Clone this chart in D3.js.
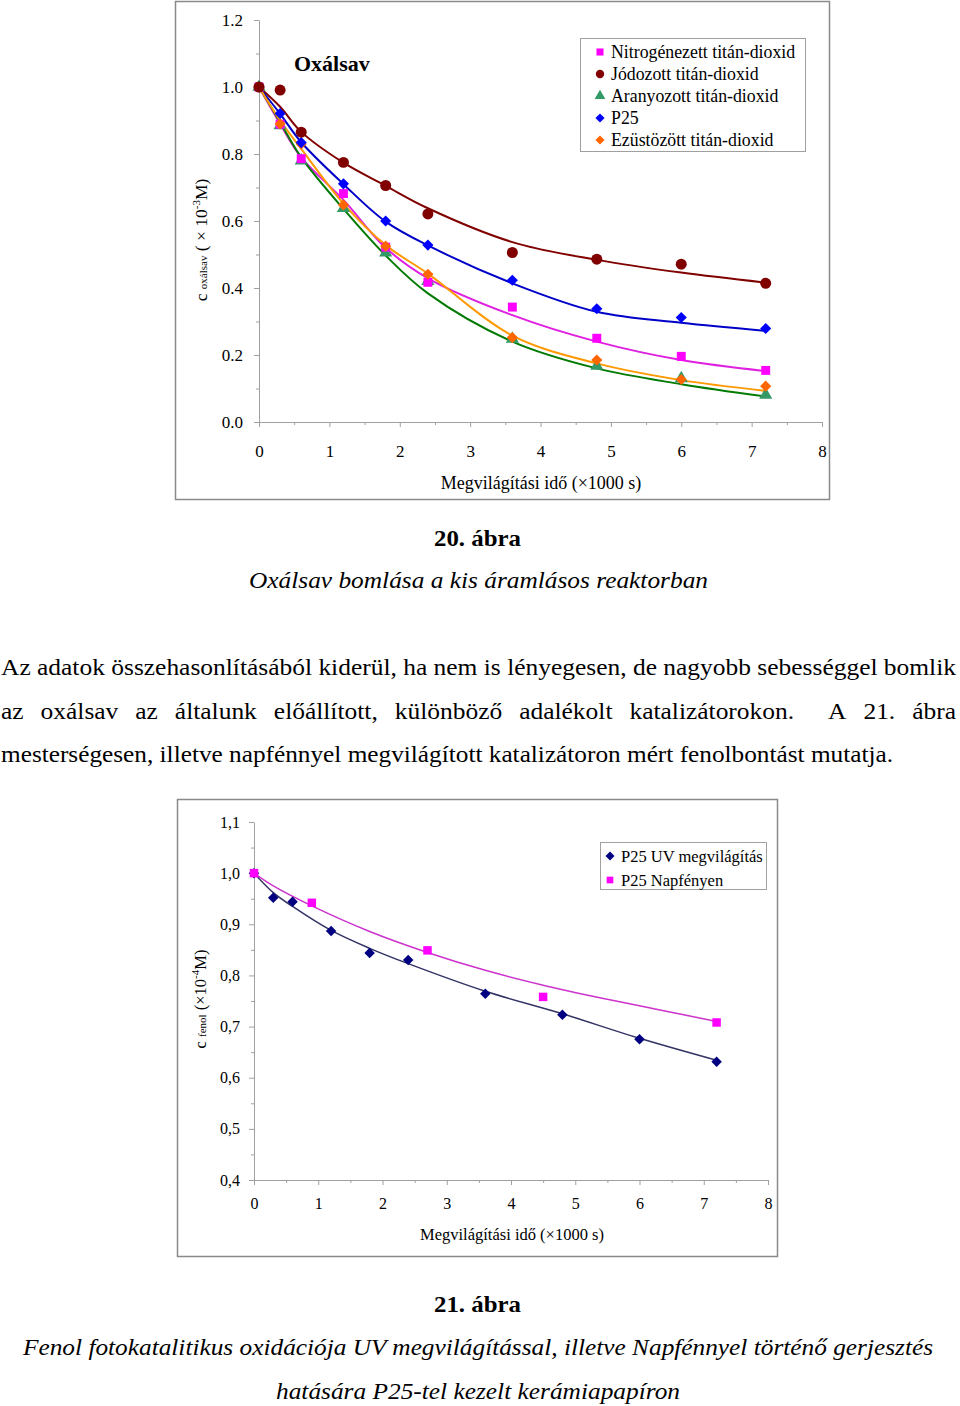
<!DOCTYPE html>
<html><head><meta charset="utf-8">
<script src="https://cdn.jsdelivr.net/npm/d3@7"></script>
<style>
html,body{margin:0;padding:0;background:#fff;}
svg{display:block;}
text{font-family:"Liberation Serif","Times New Roman",serif;fill:#000;}
</style></head>
<body>
<svg id="c" width="960" height="1406"></svg>
<script>
// ---------- DATA: chart 20 (oxalic acid) ----------
const oxTimes = [0, 0.3, 0.6, 1.2, 1.8, 2.4, 3.6, 4.8, 6.0, 7.2];
const oxSeriesNames = ["Nitrogénezett titán-dioxid","Jódozott titán-dioxid","Aranyozott titán-dioxid","P25","Ezüstözött titán-dioxid"];
const nitroVals = [1.0, 0.889, 0.786, 0.682, 0.522, 0.417, 0.343, 0.250, 0.196, 0.154];
const jodVals   = [1.0, 0.991, 0.865, 0.775, 0.706, 0.621, 0.506, 0.486, 0.471, 0.414];
const aranyVals = [1.0, 0.885, 0.780, 0.638, 0.505, 0.420, 0.248, 0.167, 0.130, 0.081];
const p25Vals   = [1.0, 0.921, 0.834, 0.711, 0.600, 0.528, 0.423, 0.338, 0.312, 0.279];
const ezustVals = [1.0, 0.890, 0.830, 0.648, 0.525, 0.441, 0.252, 0.185, 0.127, 0.107];
// fitted (trend) curves at the same times
const nitroFit = [1.0, 0.89, 0.79, 0.663, 0.52, 0.429, 0.319, 0.240, 0.185, 0.152];
const jodFit   = [1.0, 0.941, 0.866, 0.774, 0.705, 0.638, 0.537, 0.484, 0.446, 0.416];
const aranyFit = [1.0, 0.895, 0.79, 0.636, 0.497, 0.384, 0.240, 0.160, 0.113, 0.076];
const p25Fit   = [1.0, 0.92, 0.835, 0.71, 0.598, 0.527, 0.414, 0.329, 0.296, 0.272];
const ezustFit = [1.0, 0.90, 0.815, 0.652, 0.528, 0.443, 0.258, 0.175, 0.125, 0.093];
const oxXTicks = [0,1,2,3,4,5,6,7,8];
const oxYTicks = [0.0,0.2,0.4,0.6,0.8,1.0,1.2];
const oxYTickLabels = ["0.0","0.2","0.4","0.6","0.8","1.0","1.2"];

// ---------- DATA: chart 21 (phenol) ----------
const uvTimes  = [0, 0.3, 0.6, 1.2, 1.8, 2.4, 3.6, 4.8, 6.0, 7.2];
const uvVals   = [1.0, 0.952, 0.944, 0.887, 0.844, 0.830, 0.764, 0.723, 0.675, 0.631];
const uvFitT   = [0, 0.3, 0.6, 1.2, 1.8, 2.4, 3.6, 4.8, 6.0, 7.2];
const uvFit    = [1.0, 0.962, 0.935, 0.888, 0.853, 0.823, 0.769, 0.725, 0.677, 0.634];
const sunTimes = [0, 0.9, 2.7, 4.5, 7.2];
const sunVals  = [1.0, 0.942, 0.849, 0.758, 0.708];
const sunFitT  = [0, 0.3, 0.9, 1.8, 2.7, 3.6, 4.5, 5.4, 6.3, 7.2];
const sunFit   = [1.0, 0.975, 0.936, 0.886, 0.845, 0.81, 0.781, 0.756, 0.733, 0.71];
const feNames = ["P25 UV megvilágítás","P25 Napfényen"];
const feXTicks = [0,1,2,3,4,5,6,7,8];
const feYTicks = [0.4,0.5,0.6,0.7,0.8,0.9,1.0,1.1];
const feYTickLabels = ["0,4","0,5","0,6","0,7","0,8","0,9","1,0","1,1"];

// ---------- TEXT ----------
const cap20 = "20. ábra";
const cap20sub = "Oxálsav bomlása a kis áramlásos reaktorban";
const para = [
  "Az adatok összehasonlításából kiderül, ha nem is lényegesen, de nagyobb sebességgel bomlik",
  "az oxálsav az általunk előállított, különböző adalékolt katalizátorokon.  A 21. ábra",
  "mesterségesen, illetve napfénnyel megvilágított katalizátoron mért fenolbontást mutatja."
];
const cap21 = "21. ábra";
const cap21sub = ["Fenol fotokatalitikus oxidációja UV megvilágítással, illetve Napfénnyel történő gerjesztés",
                  "hatására P25-tel kezelt kerámiapapíron"];

const svg = d3.select("#c");
const AX = "#a0a0a0";

const symDiamond = {draw(ctx,size){const r=Math.sqrt(size/2);ctx.moveTo(0,-r);ctx.lineTo(r,0);ctx.lineTo(0,r);ctx.lineTo(-r,0);ctx.closePath();}};
function symbolPath(type, size){ return d3.symbol().type(type).size(size)(); }

function drawAxes(g, x, y, xTicks, yTicks, yLabels, opts){
  const xMinor = d3.range(0.5, 8, 1);
  g.append("g").attr("transform",`translate(0,${y.range()[0]})`)
    .call(d3.axisBottom(x).tickValues(xMinor).tickSize(3).tickFormat(""))
    .call(a=>a.select(".domain").remove());
  g.append("g").attr("transform",`translate(${x.range()[0]},0)`)
    .call(d3.axisLeft(y).tickValues(opts.yMinor).tickSize(3).tickFormat(""))
    .call(a=>a.select(".domain").remove());
  const xa = g.append("g").attr("transform",`translate(0,${y.range()[0]})`)
    .call(d3.axisBottom(x).tickValues(xTicks).tickSize(5).tickSizeOuter(0).tickPadding(opts.xPad).tickFormat(d3.format("d")));
  const ya = g.append("g").attr("transform",`translate(${x.range()[0]},0)`)
    .call(d3.axisLeft(y).tickValues(yTicks).tickSize(5).tickSizeOuter(0).tickPadding(opts.yPad)
      .tickFormat((d,i)=>yLabels[i]));
  g.selectAll(".tick line").attr("stroke",AX);
  g.selectAll(".domain").attr("stroke",AX);
  [xa,ya].forEach(a=>a.selectAll("text").attr("font-family","Liberation Serif").attr("font-size",opts.fs).attr("fill","#000"));
}

// ================= CHART 20 =================
(function(){
  const g = svg.append("g");
  g.append("rect").attr("x",175.5).attr("y",1.5).attr("width",654).attr("height",498)
    .attr("fill","none").attr("stroke","#8a8a8a").attr("stroke-width",1.5);
  const x = d3.scaleLinear().domain([0,8]).range([259,822]);
  const y = d3.scaleLinear().domain([0,1.2]).range([422,20]);
  drawAxes(g, x, y, oxXTicks, oxYTicks, oxYTickLabels,
    {yMinor:[0.1,0.3,0.5,0.7,0.9,1.1], xPad:18, yPad:11, fs:17});

  const series = [
    {name:oxSeriesNames[0], vals:nitroVals, fit:nitroFit, mark:"#ff00ff", line:"#e020e0", sym:d3.symbolSquare, size:80, ls:50},
    {name:oxSeriesNames[1], vals:jodVals,   fit:jodFit,   mark:"#800000", line:"#800000", sym:d3.symbolCircle, size:95, ls:55},
    {name:oxSeriesNames[2], vals:aranyVals, fit:aranyFit, mark:"#339966", line:"#007a00", sym:d3.symbolTriangle, size:75, ls:50},
    {name:oxSeriesNames[3], vals:p25Vals,   fit:p25Fit,   mark:"#0000ff", line:"#0000c8", sym:symDiamond, size:62, ls:42},
    {name:oxSeriesNames[4], vals:ezustVals, fit:ezustFit, mark:"#ff6600", line:"#ff9900", sym:symDiamond, size:62, ls:42}
  ];
  const line = d3.line().x((d,i)=>x(oxTimes[i])).y(d=>y(d)).curve(d3.curveCatmullRom.alpha(0.5));
  series.forEach(s=>{
    g.append("path").attr("d",line(s.fit)).attr("fill","none").attr("stroke",s.line).attr("stroke-width",2);
  });
  [2,0,4,3,1].forEach(k=>{
    const s = series[k];
    g.append("g").selectAll("path").data(s.vals).join("path")
      .attr("d",symbolPath(s.sym,s.size))
      .attr("transform",(d,i)=>`translate(${x(oxTimes[i])},${y(d)})`)
      .attr("fill",s.mark);
  });

  g.append("text").attr("x",294).attr("y",71).attr("font-weight","bold").attr("font-size",22).text("Oxálsav");

  // legend
  const lg = g.append("g");
  lg.append("rect").attr("x",580.5).attr("y",38.5).attr("width",225).attr("height",113)
    .attr("fill","#fff").attr("stroke","#a0a0a0");
  series.forEach((s,i)=>{
    const yy = 52 + i*22;
    lg.append("path").attr("d",symbolPath(s.sym, s.ls))
      .attr("transform",`translate(600,${yy})`).attr("fill",s.mark);
    lg.append("text").attr("x",611).attr("y",yy+6).attr("font-size",17.8).text(s.name);
  });

  // y label
  const yl = g.append("text").attr("transform","translate(207,240) rotate(-90)")
    .attr("text-anchor","middle").attr("font-size",17.5);
  yl.append("tspan").text("c ");
  yl.append("tspan").attr("font-size",11).text("oxálsav");
  yl.append("tspan").text(" ( × 10");
  yl.append("tspan").attr("font-size",11).attr("dy",-7).text("-3");
  yl.append("tspan").attr("dy",7).text("M)");

  g.append("text").attr("x",541).attr("y",489).attr("text-anchor","middle").attr("font-size",18)
    .text("Megvilágítási idő (×1000 s)");
})();

// ================= CHART 21 =================
(function(){
  const g = svg.append("g");
  g.append("rect").attr("x",177.5).attr("y",799.5).attr("width",600).attr("height",457)
    .attr("fill","none").attr("stroke","#8a8a8a").attr("stroke-width",1.5);
  const x = d3.scaleLinear().domain([0,8]).range([254,768]);
  const y = d3.scaleLinear().domain([0.4,1.1]).range([1180,822]);
  drawAxes(g, x, y, feXTicks, feYTicks, feYTickLabels,
    {yMinor:[0.45,0.55,0.65,0.75,0.85,0.95,1.05], xPad:13, yPad:9, fs:16});

  const ln = (T)=>d3.line().x((d,i)=>x(T[i])).y(d=>y(d)).curve(d3.curveCatmullRom.alpha(0.5));
  g.append("path").attr("d",ln(sunFitT)(sunFit)).attr("fill","none").attr("stroke","#cc33cc").attr("stroke-width",1.5);
  g.append("path").attr("d",ln(uvFitT)(uvFit)).attr("fill","none").attr("stroke","#333366").attr("stroke-width",1.5);
  g.append("g").selectAll("path").data(uvVals).join("path")
    .attr("d",symbolPath(symDiamond,55))
    .attr("transform",(d,i)=>`translate(${x(uvTimes[i])},${y(d)})`).attr("fill","#000080");
  g.append("g").selectAll("path").data(sunVals).join("path")
    .attr("d",symbolPath(d3.symbolSquare,72))
    .attr("transform",(d,i)=>`translate(${x(sunTimes[i])},${y(d)})`).attr("fill","#ff00ff");

  const lg = g.append("g");
  lg.append("rect").attr("x",600.5).attr("y",842.5).attr("width",166).attr("height",47)
    .attr("fill","#fff").attr("stroke","#a0a0a0");
  lg.append("path").attr("d",symbolPath(symDiamond,40)).attr("transform","translate(610,856)").attr("fill","#000080");
  lg.append("path").attr("d",symbolPath(d3.symbolSquare,45)).attr("transform","translate(610,880)").attr("fill","#ff00ff");
  lg.append("text").attr("x",621).attr("y",861.5).attr("font-size",16.5).text(feNames[0]);
  lg.append("text").attr("x",621).attr("y",885.5).attr("font-size",16.5).text(feNames[1]);

  const yl = g.append("text").attr("transform","translate(206,999) rotate(-90)")
    .attr("text-anchor","middle").attr("font-size",16.5);
  yl.append("tspan").text("c ");
  yl.append("tspan").attr("font-size",11).text("fenol");
  yl.append("tspan").text(" (×10");
  yl.append("tspan").attr("font-size",11).attr("dy",-7).text("-4");
  yl.append("tspan").attr("dy",7).text("M)");

  g.append("text").attr("x",512).attr("y",1240).attr("text-anchor","middle").attr("font-size",16.5)
    .text("Megvilágítási idő (×1000 s)");
})();

// ================= TEXT =================
function fitText(t, w){ t.attr("textLength",w).attr("lengthAdjust","spacingAndGlyphs"); return t; }

fitText(svg.append("text").attr("x",434).attr("y",546).attr("font-weight","bold").attr("font-size",23).text(cap20), 87);
fitText(svg.append("text").attr("x",249).attr("y",588).attr("font-style","italic").attr("font-size",24).text(cap20sub), 459);

const PFS = 24;
fitText(svg.append("text").attr("x",1).attr("y",675).attr("font-size",PFS).text(para[0]), 955);
fitText(svg.append("text").attr("x",1).attr("y",762).attr("font-size",PFS).text(para[2]), 892);
(function(){
  const tmp = svg.append("text").attr("font-size",PFS).text(para[0]);
  const k = 955 / tmp.node().getComputedTextLength();
  tmp.remove();
  const words = para[1].split(/\s+/);
  const widths = words.map(w=>{
    const t = svg.append("text").attr("font-size",PFS).text(w);
    const v = t.node().getComputedTextLength()*k; t.remove(); return v;
  });
  const gapsW = words.slice(1).map((w,i)=> words[i]==="katalizátorokon." ? 2 : 1);
  const unit = (955 - d3.sum(widths)) / d3.sum(gapsW);
  let xx = 1;
  words.forEach((w,i)=>{
    fitText(svg.append("text").attr("x",xx).attr("y",719).attr("font-size",PFS).text(w), widths[i]);
    xx += widths[i] + (i<gapsW.length ? gapsW[i]*unit : 0);
  });
})();

fitText(svg.append("text").attr("x",434).attr("y",1312).attr("font-weight","bold").attr("font-size",23).text(cap21), 87);
fitText(svg.append("text").attr("x",23).attr("y",1355).attr("font-style","italic").attr("font-size",24).text(cap21sub[0]), 910);
fitText(svg.append("text").attr("x",276).attr("y",1399).attr("font-style","italic").attr("font-size",24).text(cap21sub[1]), 404);
</script>
</body></html>
